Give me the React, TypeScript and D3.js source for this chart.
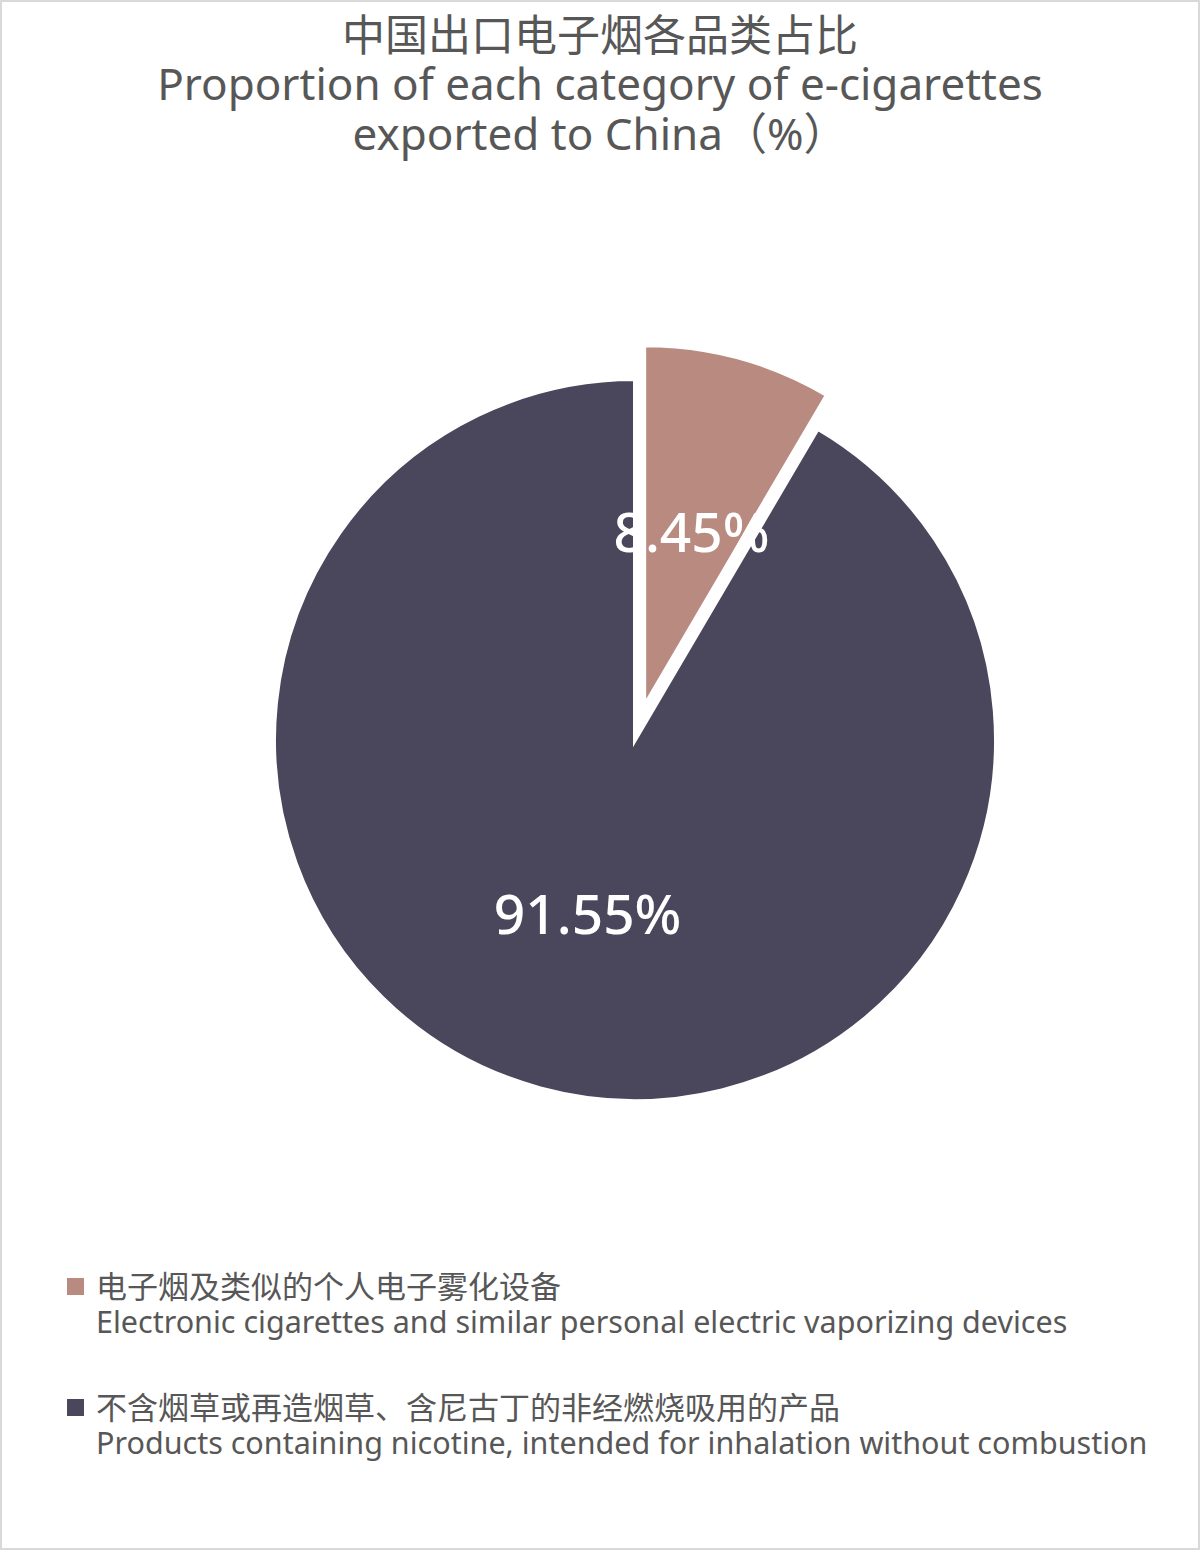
import React from "react";
import * as d3 from "d3";

const titleLines = [
  "中国出口电子烟各品类占比",
  "Proportion of each category of e-cigarettes",
  "exported to China（%）",
];
const categoriesZh = [
  "电子烟及类似的个人电子雾化设备",
  "不含烟草或再造烟草、含尼古丁的非经燃烧吸用的产品",
];
const categoriesEn = [
  "Electronic cigarettes and similar personal electric vaporizing devices",
  "Products containing nicotine, intended for inhalation without combustion",
];
const values = [8.45, 91.55];
const colors = ["#b98a80", "#4a465b"];
const explode = [35, 0];

const W = 1200;
const H = 1550;
const cx = 635;
const cy = 740;
const R = 361;

const LATIN = "'Noto Sans', 'Noto Sans CJK SC', sans-serif";
const CJK = "'Noto Sans CJK SC', 'Noto Sans', sans-serif";

export default function App() {
  const data = values.map((v, i) => ({ v, i }));
  const pie = d3
    .pie<{ v: number; i: number }>()
    .value((d) => d.v)
    .sort(null)
    .startAngle(0)
    .endAngle(Math.PI * 2);
  const arcs = pie(data);
  const arc = d3
    .arc<d3.PieArcDatum<{ v: number; i: number }>>()
    .innerRadius(0)
    .outerRadius(R);

  const offsetOf = (a: d3.PieArcDatum<{ v: number; i: number }>) => {
    const mid = (a.startAngle + a.endAngle) / 2;
    const d = explode[a.data.i];
    return [Math.sin(mid) * d, -Math.cos(mid) * d];
  };

  const legendY = [1287, 1408];

  return (
    <svg
      width={W}
      height={H}
      style={{ position: "absolute", left: 0, top: 0, background: "#fff" }}
    >
      <rect x={1} y={1} width={W - 2} height={H - 2} fill="#fff" stroke="#d9d9d9" strokeWidth={2} />
      <g fill="#575757" textAnchor="middle">
        <text x={600} y={51} fontFamily={CJK} fontSize={43}>
          {titleLines[0]}
        </text>
        <text x={600} y={100} fontFamily={LATIN} fontSize={44}>
          {titleLines[1]}
        </text>
        <text x={600} y={150} fontFamily={LATIN} fontSize={44}>
          {titleLines[2]}
        </text>
      </g>
      <g>
        {arcs
          .slice()
          .reverse()
          .map((a) => {
            const [dx, dy] = offsetOf(a);
            return (
              <path
                key={a.data.i}
                d={arc(a) || ""}
                transform={`translate(${cx + dx},${cy + dy})`}
                fill={colors[a.data.i]}
                stroke="#ffffff"
                strokeWidth={4}
                strokeLinejoin="miter"
              />
            );
          })}
        {arcs.map((a) => {
          const [dx, dy] = offsetOf(a);
          const [lx, ly] = arc.centroid(a);
          return (
            <text
              key={"l" + a.data.i}
              x={cx + dx + lx}
              y={cy + dy + ly}
              dy="0.36em"
              textAnchor="middle"
              fill="#ffffff"
              fontFamily={LATIN}
              fontWeight={500}
              fontSize={55}
            >
              {a.data.v.toFixed(2) + "%"}
            </text>
          );
        })}
      </g>
      <g>
        {categoriesZh.map((zh, i) => (
          <g key={i}>
            <rect
              x={67}
              y={legendY[i] - 9}
              width={17}
              height={17}
              fill={colors[i]}
            />
            <text x={96} y={legendY[i] + 11} fill="#575757" fontFamily={CJK} fontSize={31}>
              {zh}
            </text>
            <text x={96} y={legendY[i] + 46} fill="#575757" fontFamily={LATIN} fontSize={30.5}>
              {categoriesEn[i]}
            </text>
          </g>
        ))}
      </g>
    </svg>
  );
}
